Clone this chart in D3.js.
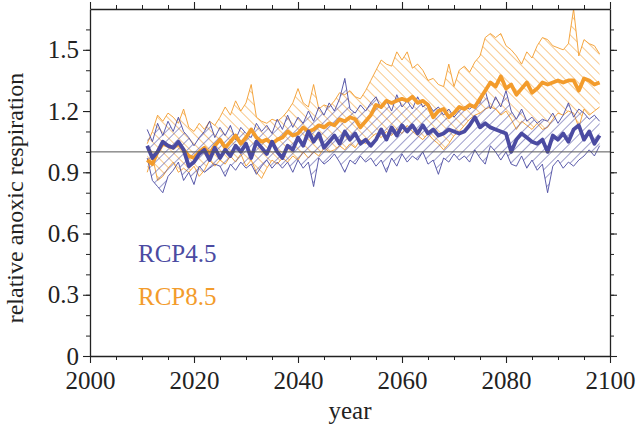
<!DOCTYPE html>
<html><head><meta charset="utf-8">
<script src="https://cdn.jsdelivr.net/npm/d3@7/dist/d3.min.js"></script>
<style>
html,body{margin:0;padding:0;background:#fff;}
svg{display:block;}
text{font-family:"Liberation Serif","Times New Roman",serif;fill:#222;}
</style></head>
<body>
<svg id="chart" width="636" height="429"></svg>
<script>
const years = d3.range(2011, 2099);

const rcp45Mean = [1.03,0.97,1.00,1.05,1.03,1.02,1.05,1.01,0.93,0.95,
0.99,1.01,0.96,1.02,0.97,1.01,0.98,1.03,1.00,1.04,
0.97,1.05,1.02,0.99,1.05,1.00,0.97,1.03,1.01,1.07,
1.03,1.10,1.05,1.09,1.02,1.05,1.08,1.04,1.10,1.06,
1.09,1.04,1.06,1.03,1.06,1.11,1.06,1.12,1.08,1.13,
1.10,1.13,1.09,1.13,1.09,1.11,1.08,1.09,1.11,1.10,
1.09,1.10,1.13,1.17,1.12,1.14,1.12,1.11,1.10,1.09,
1.00,1.06,1.09,1.07,1.05,1.04,1.06,1.00,1.08,1.06,
1.09,1.05,1.11,1.13,1.06,1.10,1.04,1.08];

const rcp45High = [1.11,1.05,1.14,1.08,1.15,1.10,1.17,1.10,1.07,1.03,
1.07,1.10,1.15,1.07,1.12,1.08,1.13,1.06,1.12,1.09,
1.07,1.14,1.10,1.13,1.09,1.16,1.11,1.18,1.12,1.17,
1.14,1.20,1.15,1.22,1.18,1.24,1.20,1.26,1.36,1.21,
1.19,1.23,1.20,1.24,1.27,1.21,1.25,1.20,1.28,1.22,
1.25,1.21,1.27,1.22,1.24,1.20,1.22,1.18,1.21,1.17,
1.20,1.22,1.21,1.23,1.24,1.30,1.21,1.27,1.22,1.30,
1.20,1.16,1.21,1.15,1.17,1.14,1.16,1.15,1.19,1.14,
1.18,1.24,1.17,1.21,1.19,1.16,1.18,1.15];

const rcp45Low = [0.97,0.86,0.83,0.80,0.88,0.91,0.95,0.86,0.90,0.84,
0.93,0.90,0.92,0.94,0.93,0.88,0.94,0.91,0.95,0.92,
0.94,0.89,0.93,0.96,0.92,0.95,0.92,0.95,0.90,0.96,
0.92,0.95,0.83,0.97,0.94,0.96,0.99,0.95,0.90,0.96,
0.94,0.98,0.95,0.97,0.93,0.96,0.90,0.97,0.93,0.99,
0.95,0.98,0.96,1.00,0.94,0.96,0.89,0.97,0.95,0.99,
0.96,0.98,0.95,1.01,0.97,0.94,1.03,1.00,0.96,1.00,
0.94,0.93,0.98,0.92,0.96,0.91,0.94,0.80,0.93,0.96,
0.92,0.95,0.93,0.96,0.98,1.01,0.98,1.03];

const rcp85Mean = [0.96,0.94,1.00,1.04,1.03,1.02,1.04,1.01,0.98,0.97,
1.00,1.02,0.99,1.03,1.06,1.02,1.05,1.08,1.04,1.07,
1.11,1.07,1.05,1.06,1.04,1.06,1.07,1.10,1.08,1.09,
1.12,1.10,1.11,1.13,1.12,1.14,1.13,1.16,1.15,1.17,
1.16,1.12,1.15,1.18,1.23,1.22,1.25,1.24,1.25,1.26,
1.25,1.27,1.24,1.25,1.23,1.17,1.20,1.21,1.17,1.19,
1.22,1.21,1.23,1.22,1.26,1.30,1.34,1.32,1.37,1.31,
1.33,1.28,1.31,1.34,1.29,1.31,1.34,1.33,1.34,1.35,
1.34,1.35,1.35,1.30,1.36,1.35,1.33,1.34];

const rcp85High = [1.04,1.10,1.18,1.15,1.19,1.17,1.14,1.21,1.12,1.10,
1.14,1.11,1.15,1.13,1.17,1.22,1.18,1.25,1.20,1.24,
1.33,1.17,1.15,1.14,1.16,1.15,1.17,1.20,1.24,1.31,
1.24,1.22,1.33,1.21,1.23,1.22,1.25,1.29,1.28,1.30,
1.27,1.26,1.30,1.35,1.40,1.45,1.43,1.42,1.49,1.45,
1.49,1.41,1.43,1.40,1.35,1.36,1.33,1.32,1.43,1.32,
1.40,1.42,1.39,1.44,1.47,1.56,1.58,1.56,1.58,1.52,
1.50,1.47,1.43,1.49,1.46,1.52,1.56,1.55,1.52,1.51,
1.50,1.53,1.70,1.47,1.55,1.53,1.52,1.48];

const rcp85Low = [0.90,0.98,0.86,0.88,0.92,0.95,0.90,0.92,0.90,0.93,
0.88,0.91,0.96,0.93,0.96,0.94,0.98,0.95,0.99,0.93,
0.96,0.90,0.87,0.92,0.96,0.94,0.97,0.95,0.98,0.96,
1.00,0.97,1.00,0.98,1.02,1.00,1.01,1.03,1.01,1.04,
1.02,1.06,1.04,1.07,1.09,1.07,1.10,1.08,1.11,1.09,
1.13,1.10,1.08,1.06,1.09,1.06,1.04,1.01,1.04,1.08,
1.10,1.13,1.16,1.18,1.19,1.21,1.22,1.21,1.18,1.20,
1.16,1.11,1.15,1.13,1.11,1.14,1.11,1.12,1.16,1.19,
1.18,1.20,1.19,1.12,1.21,1.18,1.20,1.22];

const seriesNames = ["RCP4.5", "RCP8.5"];
const xTicks = [2000, 2020, 2040, 2060, 2080, 2100];
const yTicks = [0, 0.3, 0.6, 0.9, 1.2, 1.5];
const referenceValue = 1.0;

const blue = "#4b4ba2", orange = "#f39c2c";

const W = 636, H = 429;
const m = {left: 90, right: 26, top: 9, bottom: 73};
const x = d3.scaleLinear().domain([2000, 2100]).range([m.left, W - m.right]);
const y = d3.scaleLinear().domain([0, 1.7]).range([H - m.bottom, m.top]);

const svg = d3.select("#chart");
const defs = svg.append("defs");
function hatch(id, color, angle) {
  const p = defs.append("pattern").attr("id", id)
    .attr("patternUnits", "userSpaceOnUse").attr("width", 7).attr("height", 7)
    .attr("patternTransform", `rotate(${angle})`);
  p.append("line").attr("x1", 0).attr("y1", 0).attr("x2", 0).attr("y2", 7)
    .attr("stroke", color).attr("stroke-width", 1.1);
}
hatch("hBlue", blue, 45);
hatch("hOrange", orange, -45);

defs.append("clipPath").attr("id", "clip").append("rect")
  .attr("x", m.left).attr("y", m.top).attr("width", W - m.left - m.right).attr("height", H - m.top - m.bottom);

const g = svg.append("g").attr("clip-path", "url(#clip)");

function band(hi, lo, color, pat) {
  const data = years.map((yr, i) => ({yr, hi: hi[i], lo: lo[i]}));
  g.append("path").datum(data)
    .attr("d", d3.area().x(d => x(d.yr)).y0(d => y(d.lo)).y1(d => y(d.hi)))
    .attr("fill", `url(#${pat})`).attr("stroke", "none");
  [hi, lo].forEach(arr => {
    g.append("path").datum(years.map((yr, i) => [yr, arr[i]]))
      .attr("d", d3.line().x(d => x(d[0])).y(d => y(d[1])))
      .attr("fill", "none").attr("stroke", color).attr("stroke-width", 0.9)
      .attr("stroke-linejoin", "round");
  });
}
function meanLine(arr, color) {
  g.append("path").datum(years.map((yr, i) => [yr, arr[i]]))
    .attr("d", d3.line().x(d => x(d[0])).y(d => y(d[1])))
    .attr("fill", "none").attr("stroke", color).attr("stroke-width", 3.8)
    .attr("stroke-linejoin", "round");
}

band(rcp85High, rcp85Low, orange, "hOrange");
band(rcp45High, rcp45Low, blue, "hBlue");

svg.append("line").attr("x1", x(2000)).attr("x2", x(2100))
  .attr("y1", y(referenceValue)).attr("y2", y(referenceValue))
  .attr("stroke", "#555").attr("stroke-width", 1);

meanLine(rcp85Mean, orange);
meanLine(rcp45Mean, blue);

const axisColor = "#222";
const xMinor = d3.range(2000, 2101, 5);
const yMinor = d3.range(0, 17).map(d => d / 10);

function styleAxis(sel) {
  sel.select(".domain").attr("stroke", axisColor).attr("stroke-width", 1.3);
  sel.selectAll(".tick line").attr("stroke", axisColor).attr("stroke-width", 1.1);
  sel.selectAll("text").style("font-family", '"Liberation Serif", serif')
    .style("font-size", "25px").attr("fill", "#222");
}
function minor(sel) {
  sel.select(".domain").remove();
  sel.selectAll(".tick line").attr("stroke", axisColor);
}

svg.append("g").attr("transform", `translate(0,${y(0)})`)
  .call(d3.axisBottom(x).tickValues(xMinor).tickSize(4).tickFormat("").tickSizeOuter(0)).call(minor);
svg.append("g").attr("transform", `translate(0,${y(0)})`)
  .call(d3.axisBottom(x).tickValues(xTicks).tickSize(7).tickPadding(8).tickFormat(d3.format("d")).tickSizeOuter(0))
  .call(styleAxis);
svg.append("g").attr("transform", `translate(0,${m.top})`)
  .call(d3.axisTop(x).tickValues(xMinor).tickSize(4).tickFormat("").tickSizeOuter(0)).call(minor);
svg.append("g").attr("transform", `translate(0,${m.top})`)
  .call(d3.axisTop(x).tickValues(xTicks).tickSize(7).tickFormat("").tickSizeOuter(0))
  .call(styleAxis);
svg.append("g").attr("transform", `translate(${m.left},0)`)
  .call(d3.axisLeft(y).tickValues(yMinor).tickSize(4).tickFormat("").tickSizeOuter(0)).call(minor);
svg.append("g").attr("transform", `translate(${m.left},0)`)
  .call(d3.axisLeft(y).tickValues(yTicks).tickSize(7).tickPadding(4).tickFormat(d => d === 0 ? "0" : d3.format(".1f")(d)).tickSizeOuter(0))
  .call(styleAxis);
svg.append("g").attr("transform", `translate(${W - m.right},0)`)
  .call(d3.axisRight(y).tickValues(yMinor).tickSize(4).tickFormat("").tickSizeOuter(0)).call(minor);
svg.append("g").attr("transform", `translate(${W - m.right},0)`)
  .call(d3.axisRight(y).tickValues(yTicks).tickSize(7).tickFormat("").tickSizeOuter(0))
  .call(styleAxis);

svg.append("text").attr("x", (x(2000) + x(2100)) / 2).attr("y", 419)
  .attr("text-anchor", "middle").style("font-size", "25px").text("year");
svg.append("text").attr("transform", `translate(23,198) rotate(-90)`)
  .attr("text-anchor", "middle").style("font-size", "24px").text("relative anoxic respiration");

const legendY = [262, 305];
const legendColors = [blue, orange];
seriesNames.forEach((n, i) => {
  svg.append("text").attr("x", 138).attr("y", legendY[i])
    .style("font-size", "25px").style("fill", legendColors[i]).text(n);
});
</script>
</body></html>
